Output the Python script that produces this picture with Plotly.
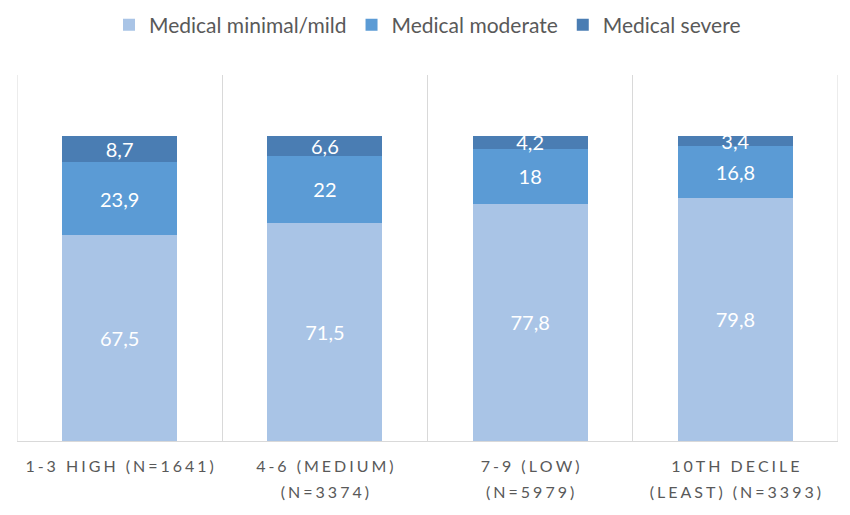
import plotly.graph_objects as go

categories = ["1-3 HIGH (N=1641)", "4-6 (MEDIUM)\n(N=3374)", "7-9 (LOW)\n(N=5979)", "10TH DECILE\n(LEAST) (N=3393)"]
series_names = ["Medical minimal/mild", "Medical moderate", "Medical severe"]
mild = [67.5, 71.5, 77.8, 79.8]
moderate = [23.9, 22, 18, 16.8]
severe = [8.7, 6.6, 4.2, 3.4]
colors = ["#A9C4E6", "#5B9BD5", "#4A7DB3"]

GAP = "\u2009\u200a"

def spaced(s):
    lines = s.split("\n")
    return "<br>".join("<span style='font-size:16px'>" + GAP.join(list(l)) + "</span>" for l in lines)

def fmt(v):
    return ("%g" % v).replace(".", ",")

xcats = [spaced(c) for c in categories]
fig = go.Figure()
for name, vals, col in zip(series_names, [mild, moderate, severe], colors):
    fig.add_trace(go.Bar(
        x=xcats, y=vals, name=name, marker=dict(color=col, line=dict(width=0)),
        text=[fmt(v) for v in vals], textposition="inside", insidetextanchor="middle",
        textfont=dict(color="white", size=20, family="Lato"),
        width=0.56, constraintext="none",
    ))

for xb in [-0.5, len(categories) - 0.5]:
    fig.add_shape(type="line", xref="x", yref="paper", x0=xb, x1=xb, y0=0, y1=1,
                  line=dict(color="#D9D9D9", width=1), layer="below")

fig.update_layout(
    barmode="stack",
    width=850, height=515,
    margin=dict(l=9, r=20, t=67, b=82, autoexpand=False),
    paper_bgcolor="white", plot_bgcolor="white",
    font=dict(family="Lato", color="#595959"),
    legend=dict(orientation="h", x=0.5, xanchor="center", yref="container", y=0.967, yanchor="middle",
                font=dict(size=21, color="#595959"), traceorder="normal"),
    uniformtext=dict(minsize=8, mode="show"),
)
fig.update_xaxes(
    type="category", range=[-0.5, 3.5], tickson="boundaries", showgrid=True, gridcolor="#D9D9D9", gridwidth=1,
    showline=True, linecolor="#D9D9D9", ticks="", tickfont=dict(size=20, color="#595959"),
    tickangle=0, ticklabelstandoff=6,
)
fig.update_yaxes(range=[0, 120], showgrid=False, showticklabels=False, zeroline=False)

fig.write_html("out.html")
